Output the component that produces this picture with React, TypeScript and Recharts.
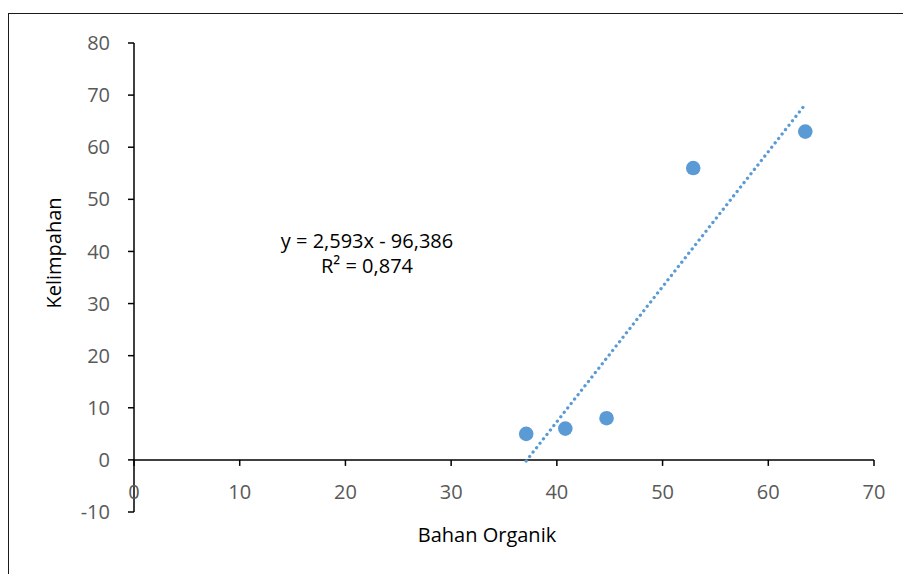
import { ReferenceLine, Scatter, ScatterChart, XAxis, YAxis } from "recharts";

// bahan organik vs kelimpahan
const bahanOrganik = [37.1, 40.8, 44.7, 52.9, 63.5];
const kelimpahan = [5, 6, 8, 56, 63];

// ends of the linear trendline as drawn
const trendX = [37.1, 63.3];
const trendY = [-0.2, 67.7];

const xTicks = [0, 10, 20, 30, 40, 50, 60, 70];
const yTicks = [-10, 0, 10, 20, 30, 40, 50, 60, 70, 80];

const equationText = "y = 2,593x - 96,386";
const r2Text = "R² = 0,874";

const points = bahanOrganik.map((x, i) => ({ x, y: kelimpahan[i] }));
const trend = trendX.map((x, i) => ({ x, y: trendY[i] }));

const W = 903;
const H = 574;
const M = { top: 43, right: 29, bottom: 22, left: 40 };
const X_AXIS_H = 40;
const PLOT_H = H - M.top - M.bottom - X_AXIS_H;
const Y_MIN = -10;
const Y_MAX = 80;
// pixel row where the x axis crosses (value 0)
const Y_ZERO = M.top + (PLOT_H * (Y_MAX - 0)) / (Y_MAX - Y_MIN);

const BLUE = "#5B9BD5";
const GREY = "#595959";
const FONT = "'Open Sans', sans-serif";

const XTick = (props: any) => {
  const { x, payload } = props;
  return (
    <g>
      <line x1={x} x2={x} y1={Y_ZERO} y2={Y_ZERO + 6} stroke="#000" strokeWidth={1.5} />
      <text x={x} y={Y_ZERO + 39} textAnchor="middle" fill={GREY} fontSize={20} fontFamily={FONT}>
        {payload.value}
      </text>
    </g>
  );
};

const Dot = (props: any) => <circle cx={props.cx} cy={props.cy} r={7.3} fill={BLUE} />;

export default function App() {
  return (
    <div style={{ position: "absolute", left: 0, top: 0, width: W, height: H, overflow: "hidden", background: "#fff" }}>
      <div
        style={{
          position: "absolute",
          left: 8,
          top: 12.5,
          width: 1200,
          height: 1200,
          border: "1.3px solid #1a1a1a",
        }}
      />
      <ScatterChart width={W} height={H} margin={M} style={{ position: "absolute", left: 0, top: 0 }}>
        <XAxis
          type="number"
          dataKey="x"
          domain={[0, 70]}
          ticks={xTicks}
          height={X_AXIS_H}
          axisLine={false}
          tickLine={false}
          tick={<XTick />}
          interval={0}
          label={{
            content: () => (
              <text x={487} y={542} textAnchor="middle" fill="#000" fontSize={20} fontFamily={FONT}>
                Bahan Organik
              </text>
            ),
          }}
        />
        <YAxis
          type="number"
          dataKey="y"
          domain={[Y_MIN, Y_MAX]}
          ticks={yTicks}
          width={94}
          interval={0}
          axisLine={{ stroke: "#000", strokeWidth: 1.5 }}
          tickLine={{ stroke: "#000", strokeWidth: 1.5 }}
          tickSize={6}
          tickMargin={18}
          tick={{ fill: GREY, fontSize: 20, fontFamily: FONT }}
          label={{
            content: () => (
              <text
                x={61}
                y={253}
                transform="rotate(-90 61 253)"
                textAnchor="middle"
                fill="#000"
                fontSize={20}
                fontFamily={FONT}
              >
                Kelimpahan
              </text>
            ),
          }}
        />
        <ReferenceLine y={0} stroke="#000" strokeWidth={1.5} ifOverflow="extendDomain" />
        <Scatter
          data={trend}
          isAnimationActive={false}
          line={{ stroke: BLUE, strokeWidth: 3.3, strokeDasharray: "0.01 5.6", strokeLinecap: "round" }}
          shape={() => <g />}
        />
        <Scatter data={points} isAnimationActive={false} shape={<Dot />} />
      </ScatterChart>
      <svg width={W} height={H} style={{ position: "absolute", left: 0, top: 0, pointerEvents: "none" }}>
        <text x={367} y={248} textAnchor="middle" fill="#000" fontSize={20} fontFamily={FONT}>
          {equationText}
        </text>
        <text x={367} y={273} textAnchor="middle" fill="#000" fontSize={20} fontFamily={FONT}>
          {r2Text}
        </text>
      </svg>
    </div>
  );
}
